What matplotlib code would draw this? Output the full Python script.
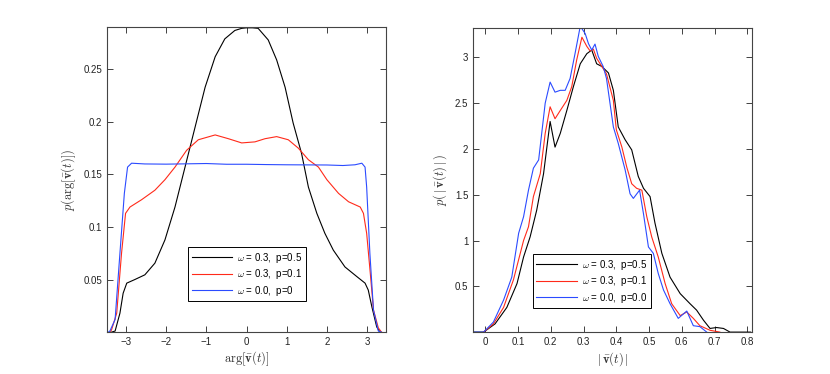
import matplotlib
matplotlib.use("Agg")
import matplotlib.pyplot as plt

plt.rcParams['font.family'] = ['Liberation Sans', 'DejaVu Sans']
plt.rcParams['mathtext.fontset'] = 'cm'

# left panel: distribution of arg[v(t)]
arg_x_black = [-3.36, -3.27, -3.15, -3.07, -2.98, -2.78, -2.53, -2.28, -2.03, -1.78, -1.53, -1.28,
               -1.03, -0.78, -0.54, -0.29, -0.12, 0.0, 0.15, 0.29, 0.54, 0.75, 0.96, 1.16, 1.37,
               1.54, 1.75, 1.95, 2.16, 2.45, 2.74, 2.95, 3.03, 3.12, 3.24, 3.32]
arg_y_black = [0.0, 0.001, 0.018, 0.037, 0.0466, 0.050, 0.0545, 0.0656, 0.0877, 0.119, 0.157, 0.195,
               0.233, 0.262, 0.279, 0.287, 0.289, 0.2895, 0.2895, 0.289, 0.278, 0.259, 0.233, 0.199, 0.170,
               0.138, 0.113, 0.094, 0.078, 0.062, 0.053, 0.0466, 0.040, 0.024, 0.005, 0.0]

arg_x_red = [-3.40, -3.36, -3.23, -3.11, -3.01, -2.90, -2.61, -2.28, -2.03, -1.78, -1.49, -1.20,
             -0.78, -0.45, -0.12, 0.21, 0.46, 0.75, 1.04, 1.29, 1.54, 1.79, 2.0, 2.29, 2.54,
             2.83, 2.91, 2.99, 3.08, 3.16, 3.28, 3.36]
arg_y_red = [0.0, 0.002, 0.018, 0.075, 0.113, 0.119, 0.126, 0.135, 0.145, 0.157, 0.173, 0.183,
             0.1876, 0.184, 0.180, 0.181, 0.184, 0.186, 0.183, 0.175, 0.164, 0.157, 0.145, 0.132, 0.124,
             0.119, 0.113, 0.094, 0.056, 0.021, 0.004, 0.0]

arg_x_blue = [-3.44, -3.40, -3.27, -3.15, -3.04, -2.96, -2.86, -2.53, -2.0, -1.5, -1.0, -0.5, 0.0,
              0.5, 1.0, 1.5, 2.0, 2.4, 2.7, 2.87, 2.95, 2.99, 3.07, 3.16, 3.28, 3.36]
arg_y_blue = [0.0, 0.001, 0.012, 0.075, 0.132, 0.157, 0.1607, 0.160, 0.1598, 0.1601, 0.1604, 0.1597, 0.1597,
              0.1594, 0.1592, 0.1591, 0.159, 0.1585, 0.1592, 0.1607, 0.157, 0.138, 0.075, 0.021, 0.001, 0.0]

# right panel: distribution of |v(t)|
abs_x_black = [-0.036, -0.005, 0.03, 0.066, 0.097, 0.117, 0.137, 0.157, 0.178, 0.198, 0.213, 0.229,
               0.249, 0.269, 0.29, 0.31, 0.325, 0.34, 0.356, 0.376, 0.391, 0.406, 0.427, 0.447,
               0.467, 0.483, 0.503, 0.518, 0.539, 0.564, 0.595, 0.625, 0.645, 0.666, 0.686, 0.706,
               0.727, 0.747, 0.81]
abs_y_black = [0.0, 0.0, 0.09, 0.27, 0.53, 0.82, 1.04, 1.33, 1.73, 2.30, 2.02, 2.17,
               2.42, 2.68, 2.93, 3.04, 3.08, 2.93, 2.90, 2.83, 2.64, 2.24, 2.10, 1.99,
               1.70, 1.57, 1.48, 1.19, 0.86, 0.60, 0.42, 0.31, 0.24, 0.13, 0.04, 0.05,
               0.04, 0.0, 0.0]

abs_x_red = [-0.005, 0.025, 0.056, 0.086, 0.117, 0.132, 0.147, 0.168, 0.183, 0.198, 0.213, 0.229,
             0.249, 0.264, 0.279, 0.295, 0.31, 0.32, 0.33, 0.34, 0.356, 0.37, 0.391, 0.40,
             0.417, 0.432, 0.447, 0.462, 0.478, 0.493, 0.508, 0.528, 0.549, 0.569, 0.595, 0.615,
             0.635, 0.655, 0.686, 0.716]
abs_y_red = [0.0, 0.09, 0.27, 0.57, 1.00, 1.15, 1.48, 1.73, 2.17, 2.46, 2.33, 2.42,
             2.53, 2.68, 2.97, 3.22, 3.12, 3.07, 3.09, 2.99, 2.90, 2.82, 2.53, 2.21,
             2.02, 1.80, 1.62, 1.57, 1.55, 1.26, 1.04, 0.82, 0.53, 0.31, 0.18, 0.22,
             0.15, 0.07, 0.02, 0.0]

abs_x_blue = [-0.036, -0.005, 0.025, 0.056, 0.081, 0.102, 0.117, 0.132, 0.147, 0.163, 0.183, 0.198,
              0.213, 0.229, 0.244, 0.259, 0.274, 0.29, 0.305, 0.315, 0.325, 0.335, 0.345, 0.36,
              0.37, 0.391, 0.406, 0.427, 0.442, 0.452, 0.471, 0.483, 0.498, 0.513, 0.528, 0.544,
              0.564, 0.589, 0.615, 0.635, 0.655, 0.676]
abs_y_blue = [0.0, 0.0, 0.11, 0.35, 0.60, 1.08, 1.26, 1.55, 1.79, 1.88, 2.50, 2.73,
              2.62, 2.64, 2.64, 2.77, 3.04, 3.34, 3.26, 3.15, 3.08, 3.145, 3.01, 2.90,
              2.77, 2.24, 2.06, 1.77, 1.51, 1.46, 1.55, 1.29, 0.93, 0.86, 0.64, 0.46,
              0.31, 0.15, 0.23, 0.07, 0.06, 0.0]

labels_left = [r'$\omega$ = 0.3,  p=0.5', r'$\omega$ = 0.3,  p=0.1', r'$\omega$ = 0.0,  p=0']
labels_right = [r'$\omega$ = 0.3,  p=0.5', r'$\omega$ = 0.3,  p=0.1', r'$\omega$ = 0.0,  p=0.0']
colors = ['black', '#ff2a1a', '#2b4bff']

fig = plt.figure(figsize=(8.3, 3.74), dpi=100)
ax1 = fig.add_axes([0.129, 0.112, 0.336, 0.815])
ax2 = fig.add_axes([0.570, 0.112, 0.336, 0.813])


def style(ax):
    ax.tick_params(direction='in', top=True, right=True, length=4, width=0.6,
                   labelsize=7, colors='#222222')
    for s in ax.spines.values():
        s.set_linewidth(0.8)
        s.set_color('#444444')


ax1.plot(arg_x_black, arg_y_black, color=colors[0], lw=0.8, label=labels_left[0])
ax1.plot(arg_x_red, arg_y_red, color=colors[1], lw=0.8, label=labels_left[1])
ax1.plot(arg_x_blue, arg_y_blue, color=colors[2], lw=0.8, label=labels_left[2])
ax1.set_xlim(-3.47, 3.47)
ax1.set_ylim(0, 0.29)
ax1.set_xticks([-3, -2, -1, 0, 1, 2, 3])
ax1.set_xticklabels(['\u22123', '\u22122', '\u22121', '0', '1', '2', '3'])
ax1.set_yticks([0.05, 0.1, 0.15, 0.2, 0.25])
ax1.set_yticklabels(['0.05', '0.1', '0.15', '0.2', '0.25'])
ax1.set_xlabel(r'$\arg[\bar{\mathbf{v}}(t)]$', fontsize=9, color='#333333', labelpad=2)
ax1.set_ylabel(r'$p(\arg[\bar{\mathbf{v}}(t)])$', fontsize=9, color='#333333', labelpad=4)
style(ax1)
leg1 = ax1.legend(loc='lower left', bbox_to_anchor=(0.291, 0.102), borderaxespad=0,
                  fontsize=7, fancybox=False, framealpha=1, edgecolor='black',
                  handlelength=4.2, handletextpad=0.5, labelspacing=0.25, borderpad=0.35)
leg1.get_frame().set_linewidth(0.7)

ax2.plot(abs_x_black, abs_y_black, color=colors[0], lw=0.8, label=labels_right[0])
ax2.plot(abs_x_red, abs_y_red, color=colors[1], lw=0.8, label=labels_right[1])
ax2.plot(abs_x_blue, abs_y_blue, color=colors[2], lw=0.8, label=labels_right[2])
ax2.set_xlim(-0.037, 0.814)
ax2.set_ylim(0, 3.32)
ax2.set_xticks([0, 0.1, 0.2, 0.3, 0.4, 0.5, 0.6, 0.7, 0.8])
ax2.set_xticklabels(['0', '0.1', '0.2', '0.3', '0.4', '0.5', '0.6', '0.7', '0.8'])
ax2.set_yticks([0.5, 1, 1.5, 2, 2.5, 3])
ax2.set_yticklabels(['0.5', '1', '1.5', '2', '2.5', '3'])
ax2.set_xlabel(r'$|\,\bar{\mathbf{v}}(t)\,|$', fontsize=9, color='#333333', labelpad=2)
ax2.set_ylabel(r'$p(\,|\,\bar{\mathbf{v}}(t)\,|\,)$', fontsize=9, color='#333333', labelpad=4)
style(ax2)
leg2 = ax2.legend(loc='lower left', bbox_to_anchor=(0.215, 0.079), borderaxespad=0,
                  fontsize=7, fancybox=False, framealpha=1, edgecolor='black',
                  handlelength=4.2, handletextpad=0.5, labelspacing=0.25, borderpad=0.35)
leg2.get_frame().set_linewidth(0.7)

fig.savefig('out.png', dpi=100)
